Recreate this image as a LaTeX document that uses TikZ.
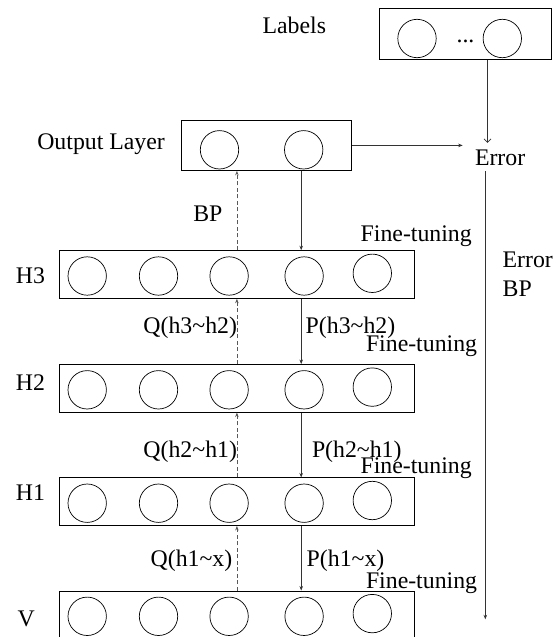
\documentclass[tikz,border=0pt]{standalone}
\usepackage{fontspec}
\setmainfont{Liberation Serif}
\usetikzlibrary{arrows.meta,calc}
\begin{document}
\begin{tikzpicture}[x=1pt,y=-1pt,
 txt/.style={font=\fontsize{23.8pt}{28pt}\selectfont, inner sep=0pt, outer sep=0pt},
 layerbox/.style={draw, line width=0.9pt, minimum width=355pt, minimum height=47.6pt, inner sep=0pt},
 unit/.style={draw, circle, line width=0.7pt, minimum size=38.4pt, inner sep=0pt},
 fwdarrow/.style={draw=black!80, line width=0.7pt, -{Stealth[length=4.5pt,width=3.5pt]}},
 bparrow/.style={draw=black!65, line width=0.8pt, dash pattern=on 4pt off 2.5pt, -{Stealth[length=4.5pt,width=3.5pt]}},
]
\clip (0,0) rectangle (555,637);

% layer boxes
\node[layerbox] (h3) at (237,274.5) {};
\node[layerbox] (h2) at (237,388.3) {};
\node[layerbox] (h1) at (237,501.7) {};
\node[layerbox] (v)  at (237,614.8) {};
\node[draw, line width=0.9pt, minimum width=170.7pt, minimum height=50pt, inner sep=0pt] (out) at (266.4,145.4) {};
\node[draw, line width=0.9pt, minimum width=172.4pt, minimum height=51pt, inner sep=0pt] (lab) at (465.5,33.8) {};

% units
\foreach \n/\yy in {h3/274.5, h2/388.3, h1/501.7, v/614.8}{
  \foreach \i/\xx in {1/87.2, 2/158.5, 3/229.1, 4/304.1}{
    \node[unit] (\n c\i) at (\xx,\yy+1.5) {};
  }
  \node[unit] (\n c5) at (372.3,\yy-1.2) {};
}
\node[unit] (outc1) at (219.5,149.8) {};
\node[unit] (outc2) at (303.7,149.8) {};
\node[unit] (labc1) at (417,38.5) {};
\node[unit] (labc2) at (502.3,38.5) {};
\node[txt, anchor=base] (dots) at (465.5,42.5) {...};

% texts
\node[txt, anchor=base east] (labtxt) at (326,33.3) {Labels};
\node[txt, anchor=base west] (outtxt) at (37.3,149.3) {Output Layer};
\node[txt, anchor=base west] (err) at (475,165) {Error};
\node[txt, anchor=base west] (bp0) at (193.3,221.7) {BP};
\node[txt, anchor=base west] (ft1) at (360.7,241.7) {Fine-tuning};
\node[txt, anchor=base west] (eb1) at (502.7,267.3) {Error};
\node[txt, anchor=base west] (eb2) at (502.7,296.7) {BP};
\node[txt, anchor=base west] (h3t) at (16,283.3) {H3};
\node[txt, anchor=base west] (h2t) at (16,390) {H2};
\node[txt, anchor=base west] (h1t) at (16,500.7) {H1};
\node[txt, anchor=base west] (vt) at (17.7,626.7) {V};
\node[txt, anchor=base east] (q3) at (237,333.3) {Q(h3\textasciitilde h2)};
\node[txt, anchor=base west] (p3) at (305.7,333.3) {P(h3\textasciitilde h2)};
\node[txt, anchor=base west] (ft2) at (366,351.7) {Fine-tuning};
\node[txt, anchor=base east] (q2) at (237,457.3) {Q(h2\textasciitilde h1)};
\node[txt, anchor=base west] (p2) at (312,457.3) {P(h2\textasciitilde h1)};
\node[txt, anchor=base west] (ft3) at (360.6,473.3) {Fine-tuning};
\node[txt, anchor=base east] (q1) at (232.3,566.7) {Q(h1\textasciitilde x)};
\node[txt, anchor=base west] (p1) at (306.7,566.7) {P(h1\textasciitilde x)};
\node[txt, anchor=base west] (ft4) at (366,588.3) {Fine-tuning};

% connector columns
\coordinate (dcol) at (236.9,0);
\coordinate (scol) at (301.2,0);
\coordinate (lcol) at (487.5,0);
\coordinate (ecol) at (485.3,0);
\coordinate (ebpend) at (485.3,619.3);

% layer connectors
\draw[bparrow] (h3.north -| dcol) -- (out.south -| dcol);
\draw[fwdarrow] (out.south -| scol) -- (h3.north -| scol);
\draw[bparrow] (h2.north -| dcol) -- (h3.south -| dcol);
\draw[fwdarrow] (h3.south -| scol) -- (h2.north -| scol);
\draw[bparrow] (h1.north -| dcol) -- (h2.south -| dcol);
\draw[fwdarrow] (h2.south -| scol) -- (h1.north -| scol);
\draw[bparrow] (v.north -| dcol) -- (h1.south -| dcol);
\draw[fwdarrow] (h1.south -| scol) -- (v.north -| scol);

% error connectors
\draw[draw=black!80, line width=0.7pt, -{Straight Barb[length=3.5pt,width=7pt]}, shorten >=6.5pt] (lab.south -| lcol) -- (err.north -| lcol);
\draw[fwdarrow, shorten >=12.3pt] (out.east) -- (out.east -| err.west);
\draw[fwdarrow, shorten <=6pt] (err.south -| ecol) -- (ebpend);
\end{tikzpicture}
\end{document}
